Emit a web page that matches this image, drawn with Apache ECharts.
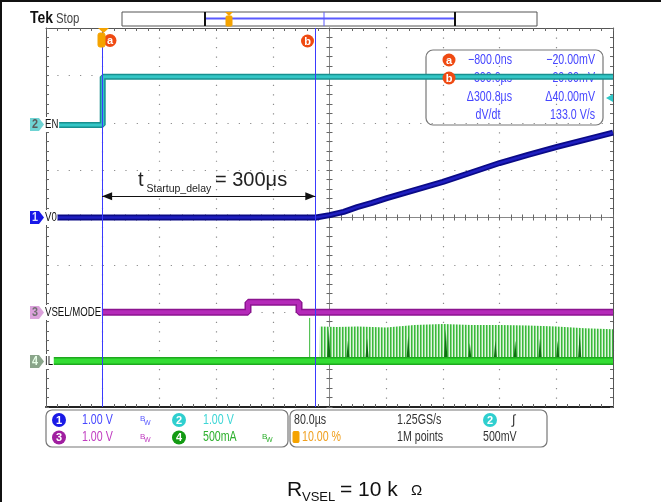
<!DOCTYPE html>
<html><head><meta charset="utf-8">
<script src="https://cdn.jsdelivr.net/npm/echarts@6/dist/echarts.min.js"></script>
<style>html,body{margin:0;padding:0;background:#fff}#c{width:661px;height:502px}</style>
</head><body><div id="c"></div>
<script>
// ---- data (time in µs from trigger, level in divisions) ----
const enTime   = [-80, 0, 0, 720];
const enVal    = [1.95, 1.95, 2.97, 2.97];
const v0Time   = [-80, 301, 320, 340, 359, 380, 401, 440, 480, 520, 560, 600, 641, 680, 720];
const v0Val    = [0, 0, 0.05, 0.12, 0.22, 0.31, 0.41, 0.58, 0.75, 0.95, 1.15, 1.32, 1.49, 1.64, 1.79];
const vselTime = [-80, 205, 205, 277, 277, 720];
const vselVal  = [-2.0, -2.0, -1.79, -1.79, -2.0, -2.0];
const ilTime   = [-80, 720];
const ilVal    = [-3.03, -3.03];
const ilSwTime = [306, 306.5, 330, 360, 400, 440, 480, 520, 560, 600, 640, 680, 720];
const ilSwVal  = [-3.03, -2.30, -2.31, -2.30, -2.32, -2.27, -2.25, -2.27, -2.27, -2.28, -2.30, -2.34, -2.36];
const ilDarkTime = [319, 346, 373, 431, 484, 518, 554, 582, 617, 642, 673];
const ilDarkPeak = [-2.35, -2.6, -2.55, -2.5, -2.35, -2.65, -2.6, -2.6, -2.55, -2.6, -2.45];
const ilSpikeTime = [292, 292];
const ilSpikeVal  = [-3.03, -2.12];
const cursorA = -0.8, cursorB = 300.0;
const arrowLevel = 0.45;
const ilBase = -3.03;

const zip = (a, b) => a.map((t, i) => [t, b[i]]);
function clusters(ts, ps){
  const out=[];
  ts.forEach((t,i)=>{ out.push([t-2.5, ilBase],[t, ps[i]],[t+2.5, ilBase]); });
  return out;
}
const AF = '"Liberation Sans",Arial,sans-serif';
const NS = 0.76; // narrow scale

function stripePattern(){
  const c=document.createElement('canvas'); c.width=3; c.height=2;
  const g=c.getContext('2d');
  g.fillStyle='#e2f5e2'; g.fillRect(0,0,3,2);
  g.fillStyle='#3cb83c'; g.fillRect(0,0,1,2);
  g.fillStyle='#86d886'; g.fillRect(1,0,1,2);
  return c;
}

const tickCol = '#666';
function xAx(pos, onZero, inside, extra){
  return Object.assign({
    type:'value', min:-80, max:720, interval:80, position:pos,
    axisLine:{show:true, onZero:onZero, onZeroAxisIndex:0, lineStyle:{color:'#555', width:1}},
    axisTick:{show:true, inside:inside, length:3, lineStyle:{color:tickCol}},
    minorTick:{show:true, splitNumber:5, length:3, lineStyle:{color:tickCol}},
    axisLabel:{show:false}, splitLine:{show:false}, minorSplitLine:{show:false}
  }, extra||{});
}
function yAx(pos, onZero, inside, extra){
  return Object.assign({
    type:'value', min:-4, max:4, interval:1, position:pos,
    axisLine:{show:true, onZero:onZero, onZeroAxisIndex:4, lineStyle:{color:'#555', width:1}},
    axisTick:{show:true, inside:inside, length:3, lineStyle:{color:tickCol}},
    minorTick:{show:true, splitNumber:5, length:3, lineStyle:{color:tickCol}},
    axisLabel:{show:false}, splitLine:{show:false}, minorSplitLine:{show:false}
  }, extra||{});
}

const G = [];
function txt(x,y,text,font,fill,align,z,sx,extraStyle){
  const st = Object.assign({text:text, font:font, fill:fill, align:align||'left', verticalAlign:'middle'}, extraStyle||{});
  G.push({type:'text', x:x, y:y, z:z||50, scaleX:sx||1, style:st});
}
function circ(cx,cy,r,fill,label,lcol){
  G.push({type:'circle', z:50, shape:{cx:cx,cy:cy,r:r}, style:{fill:fill}});
  if(label) txt(cx,cy+0.5,label,'bold 11px '+AF,lcol||'#fff','center',51);
}
function rect(x,y,w,h,r,stroke,lw,fill,z){
  G.push({type:'rect', z:z||50, shape:{x:x,y:y,width:w,height:h,r:r||0}, style:{fill:fill||'none', stroke:stroke, lineWidth:lw||1}});
}
function line(x1,y1,x2,y2,stroke,lw,z){
  G.push({type:'line', z:z||50, shape:{x1:x1,y1:y1,x2:x2,y2:y2}, style:{stroke:stroke, lineWidth:lw||1}});
}
function poly(pts,fill,z){
  G.push({type:'polygon', z:z||50, shape:{points:pts}, style:{fill:fill}});
}
function badge(y,num,fill,numCol,label){
  poly([[30,y-6.5],[39,y-6.5],[44,y],[39,y+6.5],[30,y+6.5]],fill,60);
  txt(35,y+0.5,num,'bold 12px '+AF,numCol,'center',61,0.9);
  txt(45,y,label,'13px '+AF,'#111','left',61,0.74,{backgroundColor:'#fff',padding:[1,1,1,0]});
}

// frame
line(0,1,661,1,'#111',2,10);
line(1,0,1,502,'#111',2,10);
// header
txt(30,18,'Tek','bold 17px "Liberation Sans",sans-serif','#111','left',50,0.82);
txt(56,18.5,'Stop','15px '+AF,'#444','left',50,NS);
rect(122,12,415,14,0,'#555',1,'#fff');
line(205,18.5,455,18.5,'#5a5aff',2);
line(324,12,324,26,'#5a5aff',1);
line(205,12,205,26,'#111',2);
line(455,12,455,26,'#111',2);
poly([[225,12],[233,12],[229,16]],'#f5a300',55);
rect(226,16,6,10,1,'#f5a300',1,'#f5a300',55);
// cursor markers on top
poly([[98,28],[109,28],[103.5,33]],'#f5a300',55);
rect(98,33,7,14,2,'#f5a300',1,'#f5a300',55);
circ(110,40.5,6.5,'#ef4a12','a');
circ(307.5,41,6.5,'#ef4a12','b');
// cursor readout box
rect(426,50,177,75,7,'#777',1.2,'none',1);
circ(449,60,6.5,'#ef4a12','a');
circ(449,78,6.5,'#ef4a12','b');
const rc='#4646ff', rf='14px '+AF;
txt(512,60,'\u2212800.0ns',rf,rc,'right',1,NS);
txt(595,60,'\u221220.00mV',rf,rc,'right',1,NS);
txt(512,78,'300.0\u00b5s',rf,rc,'right',1,NS);
txt(595,78,'20.00mV',rf,rc,'right',1,NS);
txt(512,97,'\u0394300.8\u00b5s',rf,rc,'right',1,NS);
txt(595,97,'\u039440.00mV',rf,rc,'right',1,NS);
txt(488,115,'dV/dt',rf,rc,'center',1,NS);
txt(595,115,'133.0 V/s',rf,rc,'right',1,NS);
// trigger level arrow (right)
poly([[606,98],[613,94],[613,102]],'#2fc8c8',60);
// channel badges
badge(124.5,'2','#6fd3d3','#5a5a5a','EN');
badge(217.5,'1','#1818e8','#ddddff','V0');
badge(312.5,'3','#dca2dc','#707070','VSEL/MODE');
badge(361.5,'4','#8aa58a','#e8ffe8','IL');
// annotation text
txt(138,180,'t','20px '+AF,'#222','left');
txt(146.5,189,'Startup_delay','10.5px '+AF,'#222','left');
txt(215,180.5,'= 300\u03bcs','20px '+AF,'#222','left');
// bottom info boxes
rect(46,410,242,37,6,'#777',1.2,'none');
rect(290,410,257,37,6,'#777',1.2,'none');
const r1=420, r2=437.5;
circ(59,r1,7,'#1a1ae6','1');
txt(82,r1,'1.00 V',rf,'#4848ff','left',50,NS);
txt(140,r1-1,'B',"8px "+AF,'#5a5aff','left');
txt(144,r1+3,'W',"7px "+AF,'#5a5aff','left');
circ(179,r1,7,'#2fcfcf','2');
txt(203,r1,'1.00 V',rf,'#3fd6d6','left',50,NS);
circ(59,r2,7,'#a01fa0','3');
txt(82,r2,'1.00 V',rf,'#c03cc0','left',50,NS);
txt(140,r2-1,'B',"8px "+AF,'#c03cc0','left');
txt(144,r2+3,'W',"7px "+AF,'#c03cc0','left');
circ(179,r2,7,'#139a13','4');
txt(203,r2,'500mA',rf,'#2eb02e','left',50,NS);
txt(262,r2-1,'B',"8px "+AF,'#2eb02e','left');
txt(266,r2+3,'W',"7px "+AF,'#2eb02e','left');
txt(294,r1,'80.0\u00b5s',rf,'#333','left',50,NS);
txt(397,r1,'1.25GS/s',rf,'#333','left',50,NS);
circ(490,r1,7,'#2fcfcf','2');
txt(512,r1,'\u222b','13px '+AF,'#333','left');
rect(293,r2-6,6,11,1,'#f5a300',1,'#f5a300');
txt(302,r2,'10.00 %',rf,'#f0a020','left',50,NS);
txt(397,r2,'1M points',rf,'#333','left',50,NS);
txt(483,r2,'500mV',rf,'#333','left',50,NS);
// bottom caption
txt(287,490,'R','21px '+AF,'#111','left');
txt(302,497,'VSEL','13px '+AF,'#111','left');
txt(340,490,'= 10 k','21px '+AF,'#111','left');
txt(411,491,'\u03a9','15px '+AF,'#111','left');

const hidden = {show:false};
const chart = echarts.init(document.getElementById('c'), null, {renderer:'canvas'});
chart.setOption({
  animation:false,
  backgroundColor:'#fff',
  grid:{left:46, top:28, width:567, height:379, show:false},
  xAxis:[
    xAx('bottom', false, true, {axisLine:{show:true,onZero:false,lineStyle:{color:'#222',width:2}},
        splitLine:{show:true, lineStyle:{color:'#8c8c8c', width:1.2, type:[1.2, 8.275]}}}),
    xAx('top', false, true),
    xAx('bottom', true, true, {axisLine:{show:true,onZero:true,onZeroAxisIndex:0,lineStyle:{color:'#888',width:1}}}),
    xAx('bottom', true, false, {axisLine:{show:true,onZero:true,onZeroAxisIndex:0,lineStyle:{color:'#888',width:1}}}),
    {type:'value', min:-400, max:400, position:'top', axisLine:{show:false,onZero:false}, axisTick:hidden, axisLabel:hidden, splitLine:hidden}
  ],
  yAxis:[
    yAx('left', false, true, {splitLine:{show:true, lineStyle:{color:'#8c8c8c', width:1.2, type:[1.2, 10.14]}}}),
    yAx('right', false, true),
    yAx('left', true, true, {axisLine:{show:true,onZero:true,onZeroAxisIndex:4,lineStyle:{color:'#888',width:1}}}),
    yAx('left', true, false, {axisLine:{show:true,onZero:true,onZeroAxisIndex:4,lineStyle:{color:'#888',width:1}}})
  ],
  graphic:{elements:G},
  series:[
    {type:'line', name:'IL switching', data:zip(ilSwTime, ilSwVal), showSymbol:false,
     lineStyle:{width:0}, areaStyle:{origin:ilBase, color:{image:stripePattern(), repeat:'repeat'}, opacity:1}},
    {type:'line', name:'IL clusters', data:clusters(ilDarkTime, ilDarkPeak), showSymbol:false,
     lineStyle:{width:0}, areaStyle:{origin:ilBase, color:'#0f6e12', opacity:1}},
    {type:'line', name:'IL spike', data:zip(ilSpikeTime, ilSpikeVal), showSymbol:false,
     lineStyle:{width:1, color:'#3cb83c'}},
    {type:'line', name:'IL', data:zip(ilTime, ilVal), showSymbol:false, lineStyle:{width:8, color:'#1fa81f'}},
    {type:'line', name:'IL core', data:zip(ilTime, ilVal), showSymbol:false, lineStyle:{width:5, color:'#33dd33'}},
    {type:'line', name:'VSEL/MODE', data:zip(vselTime, vselVal), showSymbol:false, lineStyle:{width:7, color:'#8c1490'}},
    {type:'line', name:'VSEL core', data:zip(vselTime, vselVal), showSymbol:false, lineStyle:{width:4, color:'#b52ab9'}},
    {type:'line', name:'EN', data:zip(enTime, enVal), showSymbol:false, lineStyle:{width:6, color:'#17908f'}},
    {type:'line', name:'EN core', data:zip(enTime, enVal), showSymbol:false, lineStyle:{width:3, color:'#34c6c6'}},
    {type:'line', name:'V0', data:zip(v0Time, v0Val), showSymbol:false, lineStyle:{width:6, color:'#0a0a86'}},
    {type:'line', name:'V0 core', data:zip(v0Time, v0Val), showSymbol:false, lineStyle:{width:2.5, color:'#1f1fc0'},
     markLine:{silent:true, symbol:['none','none'], label:{show:false}, z:5,
       lineStyle:{color:'#3a3aff', width:1, type:'solid'},
       data:[{xAxis:cursorA},{xAxis:cursorB}]}},
    {type:'line', name:'arrow', data:[], markLine:{silent:true, symbol:['triangle','triangle'], symbolSize:[8,10],
       symbolOffset:[[0,5],[0,5]],
       label:{show:false}, lineStyle:{color:'#111', width:1, type:'solid'},
       data:[[{coord:[cursorA, arrowLevel]},{coord:[cursorB, arrowLevel]}]]}}
  ]
});
</script></body></html>
